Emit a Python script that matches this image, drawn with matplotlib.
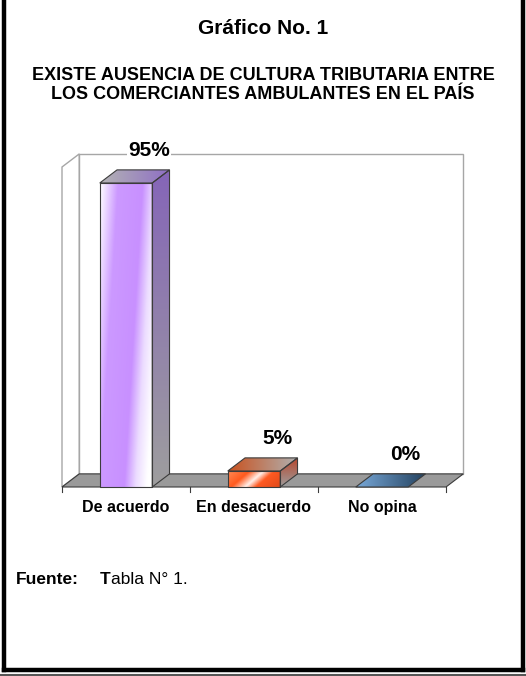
import numpy as np
import matplotlib
matplotlib.use('Agg')
import matplotlib.pyplot as plt
from matplotlib.patches import Polygon
from matplotlib.lines import Line2D
from matplotlib.colors import LinearSegmentedColormap

plt.rcParams['font.family'] = ['Liberation Sans', 'DejaVu Sans']

# datos del grafico
categorias = ['De acuerdo', 'En desacuerdo', 'No opina']
valores = [95, 5, 0]
etiquetas = ['95%', '5%', '0%']
titulo = 'Gráfico No. 1'
subtitulo = ['EXISTE AUSENCIA DE CULTURA TRIBUTARIA ENTRE',
             'LOS COMERCIANTES AMBULANTES EN EL PAÍS']

# colores de cada barra: frente (diagonal), lado, tapa
frentes = [[(0, '#ffffff'), (0.25, '#cc99ff'), (0.6, '#c890ff'), (0.76, '#ecdcff'), (0.92, '#ffffff'), (1, '#ffffff')],
           [(0, '#ff8a55'), (0.3, '#ff5a1e'), (0.5, '#fff0ea'), (0.65, '#ff5a22'), (1, '#e04a1a')],
           [(0, '#6e9fd0'), (1, '#6e9fd0')]]
lados = [['#8565b8', '#9e9e9e'],
         ['#b8442a', '#9e9e9e'],
         ['#3a5a80', '#9e9e9e']]
tapas = [['#b4b4b4', '#8e6ec4'],
         ['#c9521f', '#b0b0b0'],
         ['#78a8d8', '#24425f']]

W, H = 526, 676
fig = plt.figure(figsize=(W / 100, H / 100), dpi=100)
fig.patch.set_facecolor('white')

# ejes del grafico (3.2 px por punto porcentual, 128 px por categoria)
ax = fig.add_axes([30 / W, 1 - 519 / H, 467.2 / W, 390.4 / H])
ax.set_axis_off()

dx, dy = 0.135, 4.1   # profundidad 3D en unidades de datos
ancho = 0.41
n = len(categorias)
borde = '#3c3c3c'


def cara(verts, colores, modo='h'):
    verts = np.asarray(verts, dtype=float)
    poly = Polygon(verts, closed=True, fc='none', ec=borde, lw=0.8, zorder=4)
    ax.add_patch(poly)
    if np.ptp(verts[:, 1]) == 0 or np.ptp(verts[:, 0]) == 0:
        return
    cmap = LinearSegmentedColormap.from_list('g', colores)
    gx, gy = np.meshgrid(np.linspace(0, 1, 128), np.linspace(0, 1, 256))
    if modo == 'v':
        arr = 1 - gy
    elif modo == 'd':
        arr = (gx + 0.35 * (1 - gy)) / 1.35
    else:
        arr = gx
    im = ax.imshow(arr, cmap=cmap, vmin=0, vmax=1, aspect='auto', origin='lower',
                   extent=(verts[:, 0].min(), verts[:, 0].max(),
                           verts[:, 1].min(), verts[:, 1].max()),
                   interpolation='bilinear', zorder=3)
    im.set_clip_path(poly)


# paredes
gris = '#a6a6a6'
ax.add_patch(Polygon([(0, 0), (0, 100), (dx, 100 + dy), (dx, dy)],
                     fc='white', ec=gris, lw=1, zorder=1))
ax.add_patch(Polygon([(dx, dy), (dx, 100 + dy), (n + dx, 100 + dy), (n + dx, dy)],
                     fc='white', ec=gris, lw=1, zorder=1))
# piso
ax.add_patch(Polygon([(0, 0), (n, 0), (n + dx, dy), (dx, dy)],
                     fc='#9a9a9a', ec=borde, lw=0.8, zorder=2))
for i in range(n + 1):
    ax.plot([i, i], [0, -1.6], color=borde, lw=0.8, zorder=2)

# barras
for i, v in enumerate(valores):
    x0 = i + 0.5 - ancho / 2
    x1 = i + 0.5 + ancho / 2
    if v > 0:
        cara([(x0, 0), (x1, 0), (x1, v), (x0, v)], frentes[i], modo='d')
        cara([(x1, 0), (x1 + dx, dy), (x1 + dx, v + dy), (x1, v)], lados[i], modo='v')
    cara([(x0, v), (x1, v), (x1 + dx, v + dy), (x0 + dx, v + dy)], tapas[i])
    ax.text(i + 0.68, v + 10, etiquetas[i], ha='center', va='center',
            fontsize=15, fontweight='bold', zorder=6,
            bbox=dict(fc='white', ec='none', pad=1))
    ax.text(i + 0.5, -6.3, categorias[i], ha='center', va='center',
            fontsize=11.5, fontweight='bold')

ax.set_xlim(-0.25, 3.4)
ax.set_ylim(-10, 112)

# titulos
fig.text(0.5, 1 - 28 / H, titulo, ha='center', va='center',
         fontsize=15, fontweight='bold')
for k, linea in enumerate(subtitulo):
    fig.text(0.5, 1 - (75 + 19.5 * k) / H, linea, ha='center', va='center',
             fontsize=13, fontweight='bold')

# fuente
fig.text(16 / W, 1 - 579 / H, 'Fuente:', ha='left', va='center',
         fontsize=12.5, fontweight='bold')
t = fig.text(100 / W, 1 - 579 / H, 'T', ha='left', va='center',
             fontsize=12.5, fontweight='bold')
plt.annotate('abla N° 1.', xy=(1, 0), xycoords=t, ha='left', va='bottom',
             fontsize=12.5)

# marco
for xs, ys in [([3.5, 3.5], [0, 669.5]),
               ([522.5, 522.5], [0, 669.5]),
               ([3.5, 522.5], [669.5, 669.5])]:
    fig.add_artist(Line2D([x / W for x in xs], [1 - y / H for y in ys],
                          color='black', lw=3.2, solid_capstyle='projecting'))
fig.add_artist(Line2D([0, 1], [1 - 675 / H, 1 - 675 / H], color='#555555', lw=1.5))

fig.savefig('out.png', dpi=100)
